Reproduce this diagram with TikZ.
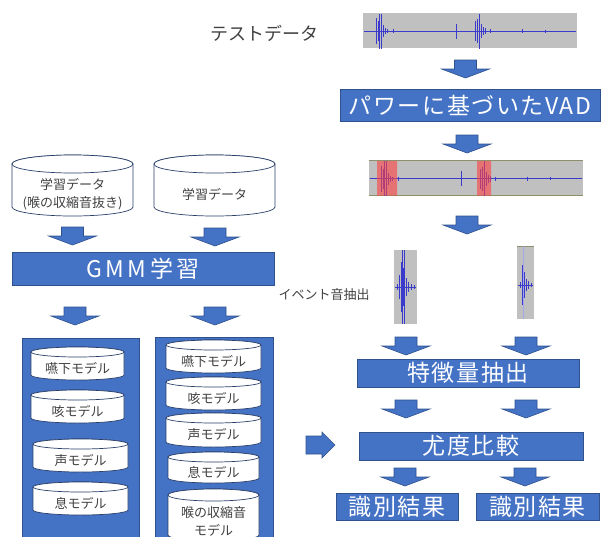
\documentclass[tikz,border=0pt]{standalone}
\usepackage{fontspec}
\setmainfont{Noto Sans CJK JP}
\newfontfamily\boxfont[LetterSpace=7]{Noto Sans CJK JP}
\newfontfamily\gmmfont[LetterSpace=15]{Noto Sans CJK JP}
\definecolor{myblue}{HTML}{4472C4}
\definecolor{myborder}{HTML}{2F528F}
\definecolor{cylline}{HTML}{2A3F6A}
\definecolor{txtgray}{HTML}{404040}
\definecolor{wavegray}{HTML}{C0C0C0}
\definecolor{sigblue}{HTML}{3A3ACC}
\definecolor{olivegray}{HTML}{8F8F6A}
\tikzset{
  bluebox/.style={fill=myblue, draw=myborder, line width=0.8pt, text=white, inner sep=0pt,
    font=\boxfont\fontsize{23}{23}\selectfont},
  arrst/.style={fill=myblue, draw=myborder, line width=0.6pt, line join=miter},
  cylst/.style={fill=white, draw=cylline, line width=0.7pt},
  cyltext/.style={text=txtgray, align=center, inner sep=0pt, font=\fontsize{13}{18}\selectfont},
  panel/.style={fill=myblue, draw=myborder, line width=0.8pt},
  wavebox/.style={fill=wavegray, draw=none, inner sep=0pt},
  sig/.style={draw=sigblue, line width=0.8pt},
  sigthin/.style={draw=sigblue, line width=0.5pt},
  pics/darr/.style={code={\draw[arrst] (-11,0) -- (11,0) -- (11,9) -- (24,9) -- (0,18) -- (-24,9) -- (-11,9) -- cycle;}},
  pics/rarr/.style={code={\draw[arrst] (0,-9) -- (16,-9) -- (16,-13) -- (29,0) -- (16,13) -- (16,9) -- (0,9) -- cycle;}}
}
\newcommand\mycyl[7]{%
  \pgfmathsetmacro\cxa{(#2+#4)/2}\pgfmathsetmacro\rxa{(#4-#2)/2}%
  \pgfmathsetmacro\yta{#3+#6}\pgfmathsetmacro\yba{#5-#6}%
  \draw[cylst] (#2,\yta) -- (#2,\yba) arc[start angle=180,end angle=0,x radius=\rxa,y radius=#6]
     -- (#4,\yta) arc[start angle=0,end angle=-180,x radius=\rxa,y radius=#6] -- cycle;
  \draw[cylst] (\cxa,\yta) ellipse[x radius=\rxa,y radius=#6];
  \node[cyltext] (#1) at (\cxa,{(\yta+#6+#5)/2}) {#7};}
\newcommand\wavesig{%
  \draw[sigthin] (364,31) -- (576,31);
  \foreach \x/\h in {376/13,378/10,379/17.5,381/17.5,383/6,385/3,387/2,393/2,456/7.5,475/10,477/12,479/17.5,481/7,483/4,485/3,490/2,522/2,545/1.5}
    \draw[sig] (\x,31-\h) -- (\x,31+\h);}
\begin{document}
\begin{tikzpicture}[x=1pt,y=-1pt]
\useasboundingbox (0,0) rectangle (602,536);
\clip (0,0) rectangle (602,536);
% test data
\node[text=txtgray, font=\fontsize{18}{18}\selectfont, inner sep=0pt] (test) at (264,33) {テストデータ};
\node[wavebox, minimum width=214, minimum height=35] (wave1) at (470,30.5) {};
\wavesig
\pic at (465.5,60) {darr};
\node[bluebox, minimum width=260, minimum height=32] (vad) at (470,105) {パワーに基づいたVAD};
\pic at (467,135) {darr};
% VAD waveform
\node[wavebox, minimum width=214, minimum height=35] (wave2) at (475.5,178) {};
\draw[olivegray, line width=0.6pt] (368.5,160.5) -- (582.5,160.5) (368.5,195.5) -- (582.5,195.5);
\begin{scope}[shift={(5.5,147.5)}]\wavesig\end{scope}
\fill[red!75!white, opacity=0.6] (377,161) rectangle (397,195.5) (477,161) rectangle (491,195.5);
\pic at (467,216) {darr};
% event clips
\node[text=txtgray, font=\fontsize{13}{13}\selectfont, inner sep=0pt] (evt) at (324,295) {イベント音抽出};
\node[wavebox, minimum width=23, minimum height=74] (clip1) at (405.5,287) {};
\draw[sigthin] (395,287) -- (416,287);
\foreach \x/\h in {397/3,399/12,401/25,402/37,403/19,404/37,406/9,408/5,411/3,414/2}
  \draw[sig] (\x,287-\h) -- (\x,287+\h);
\node[wavebox, minimum width=17, minimum height=73] (clip2) at (525.5,282.5) {};
\draw[olivegray, line width=1pt] (517,246) -- (534,246);
\draw[sigblue!45!white, line width=1pt] (523,246) -- (523,319);
\draw[sigthin] (518,285) -- (533,285);
\foreach \x/\h in {520/3,522/20,524/13,526/6,528/4,531/2}
  \draw[sig] (\x,285-\h) -- (\x,285+\h);
% feature / likelihood
\pic at (406,337) {darr};
\pic at (526,337) {darr};
\node[bluebox, minimum width=222, minimum height=28] (feat) at (468,373) {特徴量抽出};
\pic at (406,400) {darr};
\pic at (526,400) {darr};
\node[bluebox, minimum width=224, minimum height=28] (like) at (471,446) {尤度比較};
\pic at (306,445) {rarr};
\pic at (405,468) {darr};
\pic at (525,468) {darr};
\node[bluebox, minimum width=122, minimum height=27] (res1) at (397,506.5) {識別結果};
\node[bluebox, minimum width=123, minimum height=27] (res2) at (537.5,506.5) {識別結果};
% training
\mycyl{train1}{12}{155}{133}{216}{9}{学習データ\\(喉の収縮音抜き)}
\mycyl{train2}{154}{155}{275}{216}{9}{学習データ}
\pic at (72.5,227) {darr};
\pic at (215,228) {darr};
\node[bluebox, font=\gmmfont\fontsize{23}{23}\selectfont, minimum width=262, minimum height=33] (gmm) at (143,268.5) {GMM学習};
\pic at (75,307) {darr};
\pic at (215,307) {darr};
% model panels
\draw[panel] (22,338) rectangle (139,545);
\draw[panel] (155,337) rectangle (273,545);
\mycyl{lm1}{31}{347}{124}{380}{5}{嚥下モデル}
\mycyl{lm2}{31}{390}{124}{423}{5}{咳モデル}
\mycyl{lm3}{33}{439}{128}{472}{5}{声モデル}
\mycyl{lm4}{33}{482}{128}{515}{5}{息モデル}
\mycyl{rm1}{166}{340}{261}{373}{5}{嚥下モデル}
\mycyl{rm2}{166}{377}{261}{410}{5}{咳モデル}
\mycyl{rm3}{166}{413}{261}{447}{5}{声モデル}
\mycyl{rm4}{168}{452}{259}{483}{5}{息モデル}
\mycyl{rm5}{168}{489}{259}{541}{6}{喉の収縮音\\モデル}
\end{tikzpicture}
\end{document}
